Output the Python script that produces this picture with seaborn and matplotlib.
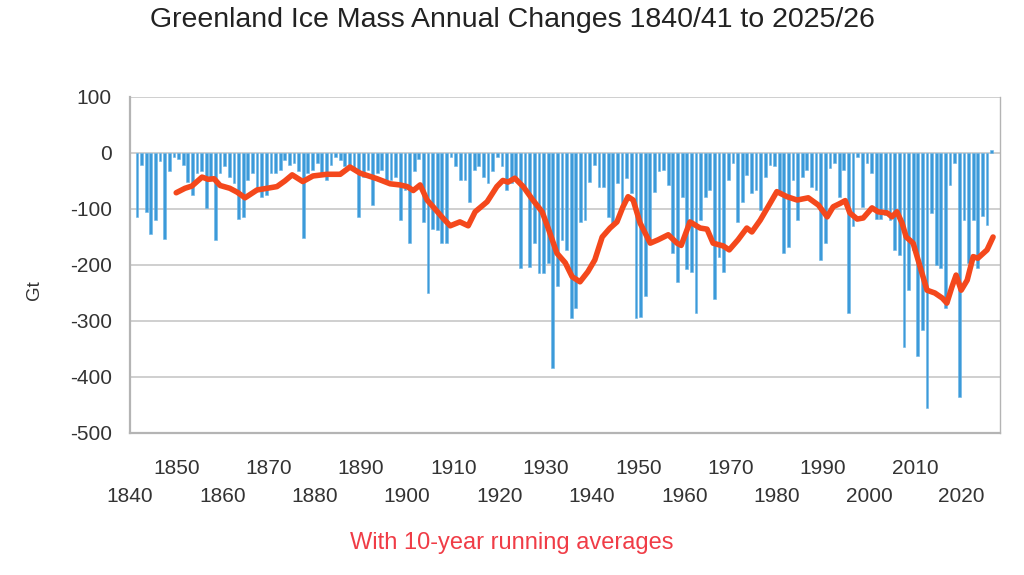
"""Greenland ice mass annual changes with running average."""

import matplotlib

matplotlib.use("Agg")
import matplotlib.pyplot as plt
import numpy as np
import pandas as pd
import seaborn as sns

# Season end year (1840/41 -> 1841 ... 2025/26 -> 2026)
season_end = np.arange(1841, 2027)

# Annual mass change (Gt), one value per season
mass_change = [
    -114, -21, -105, -145, -120, -15, -154, -33, -7,                     # 1841-1849
    -10, -21, -51, -75, -36, -33, -99, -42, -155, -36,                   # 1850s
    -24, -42, -54, -117, -114, -48, -36, -66, -78, -75,                  # 1860s
    -36, -36, -30, -12, -21, -18, -33, -152, -36, -30,                   # 1870s
    -18, -36, -48, -21, -7, -12, -24, -21, -33, -114,                    # 1880s
    -42, -30, -93, -36, -30, -48, -48, -42, -120, -66,                   # 1890s
    -161, -33, -10, -123, -250, -135, -137, -161, -161, -7,              # 1900s
    -24, -48, -48, -87, -30, -24, -42, -54, -33, -7,                     # 1910s
    -24, -66, -54, -42, -206, -66, -203, -161, -215, -215,               # 1920s
    -197, -384, -238, -155, -173, -295, -277, -123, -120, -51,           # 1930s
    -21, -60, -60, -114, -131, -54, -90, -45, -72, -295,                 # 1940s
    -292, -256, -155, -69, -33, -30, -57, -179, -230, -78,               # 1950s
    -208, -212, -286, -120, -78, -66, -260, -185, -212, -48,             # 1960s
    -18, -123, -87, -39, -72, -66, -102, -42, -21, -24,                  # 1970s
    -69, -179, -167, -48, -120, -42, -30, -60, -66, -191,                # 1980s
    -161, -27, -18, -78, -30, -286, -131, -7, -96, -18,                  # 1990s
    -36, -117, -117, -111, -120, -173, -182, -346, -244, -173,           # 2000s
    -363, -316, -456, -108, -200, -206, -277, -57, -18, -435,            # 2010s
    -120, -197, -120, -206, -113, -128, 5,                               # 2020s
]

# 10-year running average (Gt)
avg_year = [
    1850.0, 1851.9, 1853.4, 1855.6, 1856.9, 1858.2, 1859.5, 1861.6, 1863.2, 1864.9,
    1867.5, 1869.7, 1871.8, 1873.5, 1875.1, 1877.4, 1879.6, 1882.6, 1885.5, 1887.6,
    1889.8, 1893.5, 1896.3, 1898.4, 1900.0, 1901.3, 1902.8, 1904.3, 1905.6, 1907.7,
    1909.3, 1911.4, 1913.2, 1914.7, 1917.3, 1919.4, 1920.7, 1921.8, 1923.3, 1925.1,
    1927.2, 1929.2, 1930.5, 1932.4, 1934.2, 1935.7, 1937.4, 1939.1, 1940.6, 1942.2,
    1943.9, 1945.4, 1946.7, 1947.8, 1948.9, 1950.4, 1952.6, 1954.3, 1956.5, 1958.4,
    1959.3, 1961.2, 1963.4, 1964.9, 1966.2, 1968.4, 1969.7, 1971.6, 1973.5, 1974.6,
    1976.4, 1978.1, 1980.0, 1982.2, 1984.4, 1986.8, 1989.0, 1990.9, 1992.2, 1993.7,
    1994.8, 1995.8, 1997.4, 1998.7, 2000.6, 2001.9, 2003.9, 2004.9, 2006.0, 2007.1,
    2008.0, 2009.5, 2011.0, 2012.5, 2014.2, 2015.8, 2016.8, 2017.9, 2018.8, 2019.9,
    2021.2, 2022.5, 2023.5, 2025.5, 2026.8,
]
avg_value = [
    -71, -63, -59, -43, -47, -46, -58, -63, -70, -80,
    -66, -63, -60, -50, -39, -51, -41, -38, -38, -25,
    -36, -46, -55, -57, -60, -67, -57, -84, -96, -116,
    -130, -123, -130, -105, -87, -60, -49, -52, -45, -60,
    -84, -105, -134, -179, -196, -221, -230, -212, -191, -150,
    -134, -123, -96, -78, -84, -125, -161, -155, -146, -161,
    -165, -123, -134, -136, -161, -166, -173, -155, -134, -141,
    -120, -96, -69, -78, -84, -80, -93, -114, -96, -90,
    -85, -107, -118, -116, -98, -105, -107, -114, -105, -125,
    -150, -161, -203, -245, -250, -259, -268, -239, -218, -245,
    -227, -185, -188, -173, -150,
]

decades = list(range(1840, 2030, 10))

BAR_COLOR = "#3c9ad9"
LINE_COLOR = "#f4481c"
AXIS_COLOR = "#b4b4b4"
TEXT_COLOR = "#333333"

sns.set_style("white")
plt.rcParams["font.family"] = ["Liberation Sans", "DejaVu Sans"]
plt.rcParams["axes.unicode_minus"] = False

bars = pd.DataFrame({"year": season_end + 0.5, "gt": mass_change})
avg = pd.DataFrame({"year": avg_year, "gt": avg_value})

fig = plt.figure(figsize=(10.24, 5.75), dpi=100)
ax = fig.add_axes([130 / 1024, 142 / 575, 870 / 1024, 336 / 575])

sns.barplot(
    data=bars,
    x="year",
    y="gt",
    native_scale=True,
    width=0.6,
    color=BAR_COLOR,
    saturation=1,
    edgecolor="#6bb5e6",
    linewidth=0.4,
    errorbar=None,
    ax=ax,
)
sns.lineplot(
    data=avg,
    x="year",
    y="gt",
    color=LINE_COLOR,
    linewidth=4.0,
    solid_capstyle="round",
    solid_joinstyle="round",
    ax=ax,
)

ax.set_xlim(1840, 2028.3)
ax.set_ylim(-500, 100)
ax.set_yticks(range(-500, 101, 100))
ax.set_xticks(decades)
ax.set_xticklabels([str(d) if i % 2 else "\n" + str(d) for i, d in enumerate(decades)])

ax.yaxis.grid(True, color="#cccccc", linewidth=1.3)
ax.set_axisbelow(True)
for side in ["left", "bottom", "right"]:
    ax.spines[side].set_color(AXIS_COLOR)
    ax.spines[side].set_linewidth(1.6)
ax.spines["top"].set_visible(False)
ax.spines["right"].set_linewidth(1.0)

ax.tick_params(axis="both", direction="out", length=7, width=1.4, color=AXIS_COLOR,
               labelcolor=TEXT_COLOR, labelsize=15)
ax.tick_params(axis="x", pad=12)
ax.tick_params(axis="y", pad=6)
for lab in ax.get_xticklabels():
    lab.set_linespacing(1.55)

ax.set_xlabel("")
ax.set_ylabel("")
fig.text(35 / 1024, 1 - 290 / 575, "Gt", rotation=90, ha="center", va="center",
         fontsize=13.5, color=TEXT_COLOR)

fig.text(0.5, 0.966, "Greenland Ice Mass Annual Changes 1840/41 to 2025/26",
         ha="center", va="center", fontsize=20.5, color="#222222")
fig.text(0.5, 0.056, "With 10-year running averages",
         ha="center", va="center", fontsize=17, color="#f03c46")

fig.savefig("out.png", dpi=100)
plt.close(fig)
